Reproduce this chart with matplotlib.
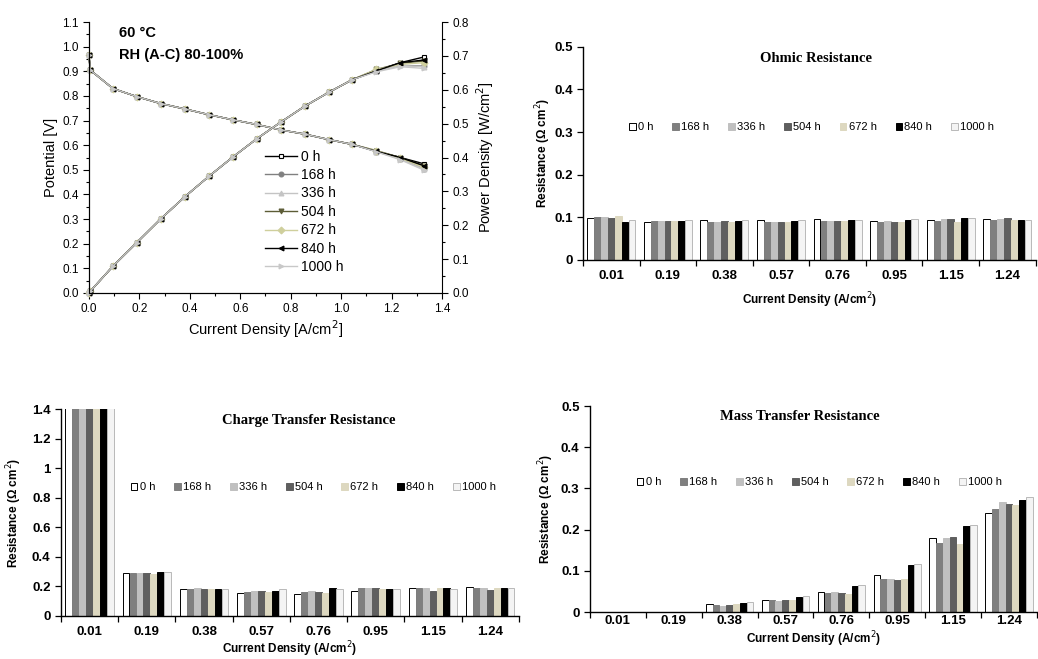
import matplotlib
matplotlib.use("Agg")
import matplotlib.pyplot as plt
import numpy as np
from matplotlib.ticker import MultipleLocator, FormatStrFormatter

# ---------------- polarization data ----------------
hours = ['0 h', '168 h', '336 h', '504 h', '672 h', '840 h', '1000 h']
current = [0.0, 0.005, 0.095, 0.19, 0.285, 0.38, 0.475, 0.57, 0.665,
           0.76, 0.855, 0.95, 1.045, 1.14, 1.235, 1.33]

v_0h = [0.966, 0.905, 0.83, 0.797, 0.769, 0.747, 0.724, 0.703, 0.684, 0.662, 0.645, 0.623, 0.603, 0.575, 0.550, 0.524]
v_168h = [0.966, 0.905, 0.83, 0.797, 0.769, 0.747, 0.724, 0.703, 0.684, 0.662, 0.645, 0.623, 0.603, 0.574, 0.545, 0.503]
v_336h = [0.966, 0.905, 0.83, 0.797, 0.769, 0.747, 0.724, 0.703, 0.684, 0.662, 0.645, 0.623, 0.603, 0.574, 0.544, 0.502]
v_504h = [0.966, 0.905, 0.83, 0.797, 0.769, 0.747, 0.724, 0.703, 0.684, 0.662, 0.645, 0.623, 0.603, 0.578, 0.550, 0.515]
v_672h = [0.966, 0.905, 0.83, 0.797, 0.769, 0.747, 0.724, 0.703, 0.684, 0.662, 0.645, 0.623, 0.603, 0.578, 0.547, 0.510]
v_840h = [0.966, 0.905, 0.83, 0.797, 0.769, 0.747, 0.724, 0.703, 0.684, 0.662, 0.645, 0.623, 0.603, 0.575, 0.550, 0.516]
v_1000h = [0.966, 0.905, 0.83, 0.797, 0.769, 0.747, 0.724, 0.703, 0.684, 0.662, 0.645, 0.623, 0.603, 0.573, 0.541, 0.498]

p_0h = [0.0, 0.005, 0.079, 0.149, 0.219, 0.284, 0.344, 0.401, 0.455, 0.504, 0.551, 0.592, 0.630, 0.656, 0.680, 0.697]
p_168h = [0.0, 0.005, 0.079, 0.149, 0.219, 0.284, 0.344, 0.401, 0.455, 0.504, 0.551, 0.592, 0.630, 0.655, 0.672, 0.670]
p_336h = [0.0, 0.005, 0.079, 0.149, 0.219, 0.284, 0.344, 0.401, 0.455, 0.504, 0.551, 0.592, 0.630, 0.655, 0.672, 0.668]
p_504h = [0.0, 0.005, 0.079, 0.149, 0.219, 0.284, 0.344, 0.401, 0.455, 0.504, 0.551, 0.592, 0.630, 0.660, 0.678, 0.685]
p_672h = [0.0, 0.005, 0.079, 0.149, 0.219, 0.284, 0.344, 0.401, 0.455, 0.504, 0.551, 0.592, 0.630, 0.660, 0.675, 0.680]
p_840h = [0.0, 0.005, 0.079, 0.149, 0.219, 0.284, 0.344, 0.401, 0.455, 0.504, 0.551, 0.592, 0.630, 0.656, 0.680, 0.688]
p_1000h = [0.0, 0.005, 0.079, 0.149, 0.219, 0.284, 0.344, 0.401, 0.455, 0.504, 0.551, 0.592, 0.630, 0.653, 0.668, 0.663]

# ---------------- impedance bar data ----------------
cd_labels = ['0.01', '0.19', '0.38', '0.57', '0.76', '0.95', '1.15', '1.24']

# ohmic resistance, one list per ageing time
ohm_0h = [0.098, 0.089, 0.094, 0.094, 0.096, 0.092, 0.094, 0.096]
ohm_168h = [0.100, 0.092, 0.088, 0.088, 0.092, 0.088, 0.092, 0.094]
ohm_336h = [0.100, 0.092, 0.089, 0.089, 0.092, 0.091, 0.095, 0.096]
ohm_504h = [0.098, 0.092, 0.092, 0.088, 0.092, 0.090, 0.096, 0.098]
ohm_672h = [0.102, 0.092, 0.088, 0.088, 0.092, 0.088, 0.090, 0.094]
ohm_840h = [0.090, 0.092, 0.092, 0.092, 0.094, 0.094, 0.098, 0.094]
ohm_1000h = [0.094, 0.093, 0.094, 0.093, 0.094, 0.095, 0.098, 0.094]

# charge transfer resistance (0.01 bars run off the top of the axis)
ct_0h = [1.6, 0.290, 0.185, 0.158, 0.150, 0.170, 0.188, 0.196]
ct_168h = [1.6, 0.290, 0.185, 0.165, 0.163, 0.188, 0.188, 0.190]
ct_336h = [1.6, 0.290, 0.190, 0.170, 0.168, 0.190, 0.190, 0.190]
ct_504h = [1.6, 0.290, 0.185, 0.170, 0.163, 0.188, 0.170, 0.175]
ct_672h = [1.6, 0.285, 0.185, 0.165, 0.158, 0.180, 0.188, 0.190]
ct_840h = [1.6, 0.295, 0.185, 0.170, 0.188, 0.180, 0.192, 0.190]
ct_1000h = [1.6, 0.300, 0.185, 0.185, 0.185, 0.185, 0.185, 0.190]

# mass transfer resistance
mt_0h = [0.0, 0.0, 0.019, 0.030, 0.048, 0.090, 0.180, 0.240]
mt_168h = [0.0, 0.0, 0.017, 0.028, 0.045, 0.080, 0.168, 0.250]
mt_336h = [0.0, 0.0, 0.015, 0.026, 0.048, 0.080, 0.180, 0.268]
mt_504h = [0.0, 0.0, 0.017, 0.028, 0.047, 0.078, 0.182, 0.262]
mt_672h = [0.0, 0.0, 0.019, 0.028, 0.043, 0.080, 0.165, 0.260]
mt_840h = [0.0, 0.0, 0.023, 0.036, 0.062, 0.113, 0.208, 0.273]
mt_1000h = [0.0, 0.0, 0.025, 0.038, 0.065, 0.116, 0.212, 0.278]

# styles
line_colors = ['black', '#808080', '#c4c4c4', '#5c5c36', '#cfcf9c', 'black', '#c8c8c8']
line_markers = ['s', 'o', '^', 'v', 'D', '<', '>']
bar_faces = ['white', '#7f7f7f', '#c0c0c0', '#5f5f5f', '#ddd8c0', '#000000', '#f4f4f4']
bar_edges = ['black', '#7f7f7f', '#c0c0c0', '#5f5f5f', '#ddd8c0', '#000000', '#b8b8b8']

SANS = ['Liberation Sans', 'DejaVu Sans']
SERIF = ['Liberation Serif', 'DejaVu Serif']
plt.rcParams['font.family'] = SANS


def draw_polarization(fig):
    ax = fig.add_axes([0.0857, 0.5554, 0.3401, 0.4112])
    ax2 = ax.twinx()
    volts = [v_0h, v_168h, v_336h, v_504h, v_672h, v_840h, v_1000h]
    powers = [p_0h, p_168h, p_336h, p_504h, p_672h, p_840h, p_1000h]
    handles = []
    for i, lab in enumerate(hours):
        mfc = 'white' if i == 0 else line_colors[i]
        kw = dict(color=line_colors[i], marker=line_markers[i], markersize=3.5,
                  markerfacecolor=mfc, markeredgecolor=line_colors[i],
                  markeredgewidth=0.8, linewidth=1.0, clip_on=False)
        h, = ax.plot(current, volts[i], label=lab, **kw)
        ax2.plot(current, powers[i], **kw)
        handles.append(h)

    ax.set_xlim(0, 1.4)
    ax.set_ylim(0, 1.1)
    ax2.set_ylim(0, 0.8)
    ax.xaxis.set_major_locator(MultipleLocator(0.2))
    ax.xaxis.set_minor_locator(MultipleLocator(0.1))
    ax.yaxis.set_major_locator(MultipleLocator(0.1))
    ax.yaxis.set_minor_locator(MultipleLocator(0.05))
    ax2.yaxis.set_major_locator(MultipleLocator(0.1))
    ax2.yaxis.set_minor_locator(MultipleLocator(0.05))
    for a in (ax, ax2):
        a.xaxis.set_major_formatter(FormatStrFormatter('%.1f'))
        a.yaxis.set_major_formatter(FormatStrFormatter('%.1f'))
        a.spines['top'].set_visible(False)
        a.tick_params(which='both', direction='out', labelsize=8.5, width=0.8)
        a.tick_params(which='major', length=4)
        a.tick_params(which='minor', length=2.5)
    ax.spines['right'].set_visible(False)

    ax.set_xlabel('Current Density [A/cm$^2$]', fontsize=10.5, labelpad=2)
    ax.set_ylabel('Potential [V]', fontsize=10.5, labelpad=3)
    ax2.set_ylabel('Power Density [W/cm$^2$]', fontsize=10.5, labelpad=4)

    ax.text(0.085, 0.985, '60 \u00b0C', transform=ax.transAxes, fontsize=10.5,
            fontweight='bold', va='top')
    ax.text(0.085, 0.905, 'RH (A-C) 80-100%', transform=ax.transAxes, fontsize=10.5,
            fontweight='bold', va='top')

    ax.legend(handles=handles, loc='upper left', bbox_to_anchor=(0.47, 0.565),
              frameon=False, fontsize=10, handlelength=2.3, handletextpad=0.3,
              labelspacing=0.32, borderpad=0.2)


def draw_bars(fig, rect, series, ylim, ystep, title, title_xy, leg_xy,
              ylabel_pad, tick_pad, xlabel_pad):
    ax = fig.add_axes(rect)
    n = len(series)
    group = 0.85
    w = group / n
    x = np.arange(len(cd_labels))
    for i, vals in enumerate(series):
        ax.bar(x - group / 2 + w * (i + 0.5), vals, width=w * 0.98,
               color=bar_faces[i], edgecolor=bar_edges[i], linewidth=0.7,
               label=hours[i])
    ax.set_xlim(-0.5, len(cd_labels) - 0.5)
    ax.set_ylim(*ylim)
    ax.set_yticks(np.arange(ylim[0], ylim[1] + ystep / 2, ystep))
    ax.yaxis.set_major_formatter(FormatStrFormatter('%g'))
    ax.set_xticks(np.arange(len(cd_labels) + 1) - 0.5)
    ax.set_xticklabels([])
    ax.set_xticks(x, minor=True)
    ax.set_xticklabels(cd_labels, minor=True)
    ax.tick_params(axis='x', which='minor', length=0, pad=tick_pad)
    ax.tick_params(axis='x', which='major', length=4, direction='out', width=0.9)
    ax.tick_params(axis='y', length=4, direction='out', width=0.9)
    for lab in ax.get_xticklabels(minor=True) + ax.get_yticklabels():
        lab.set_fontweight('bold')
        lab.set_fontsize(9.5)
    ax.spines['top'].set_visible(False)
    ax.spines['right'].set_visible(False)
    ax.spines['left'].set_linewidth(1.0)
    ax.spines['bottom'].set_linewidth(1.0)

    ax.set_xlabel('Current Density (A/cm$^2$)', fontsize=8.5, fontweight='bold',
                  labelpad=xlabel_pad)
    ax.set_ylabel('Resistance (\u03a9 cm$^2$)', fontsize=8.5, fontweight='bold',
                  labelpad=ylabel_pad)
    ax.text(title_xy[0], title_xy[1], title, transform=ax.transAxes, ha='center',
            va='center', fontsize=10.5, fontweight='bold', family=SERIF)
    ax.legend(loc='center', bbox_to_anchor=leg_xy, ncol=n, frameon=False,
              fontsize=8, handlelength=0.6, handleheight=0.6, handletextpad=0.2,
              columnspacing=1.7, borderpad=0.1)
    return ax


fig = plt.figure(figsize=(10.38, 6.59), dpi=100)

draw_polarization(fig)

draw_bars(fig, [0.5617, 0.6055, 0.436, 0.3236],
          [ohm_0h, ohm_168h, ohm_336h, ohm_504h, ohm_672h, ohm_840h, ohm_1000h],
          (0, 0.5), 0.1, 'Ohmic Resistance',
          (0.514, 0.947), (0.505, 0.623), 0.5, 7, 6)

draw_bars(fig, [0.0588, 0.0653, 0.441, 0.3136],
          [ct_0h, ct_168h, ct_336h, ct_504h, ct_672h, ct_840h, ct_1000h],
          (0, 1.4), 0.2, 'Charge Transfer Resistance',
          (0.542, 0.948), (0.551, 0.624), 6, 7, 1)

draw_bars(fig, [0.5684, 0.0713, 0.4306, 0.3126],
          [mt_0h, mt_168h, mt_336h, mt_504h, mt_672h, mt_840h, mt_1000h],
          (0, 0.5), 0.1, 'Mass Transfer Resistance',
          (0.469, 0.951), (0.513, 0.631), 3.4, 2, 2)

fig.savefig('out.png', dpi=100)
plt.close(fig)
